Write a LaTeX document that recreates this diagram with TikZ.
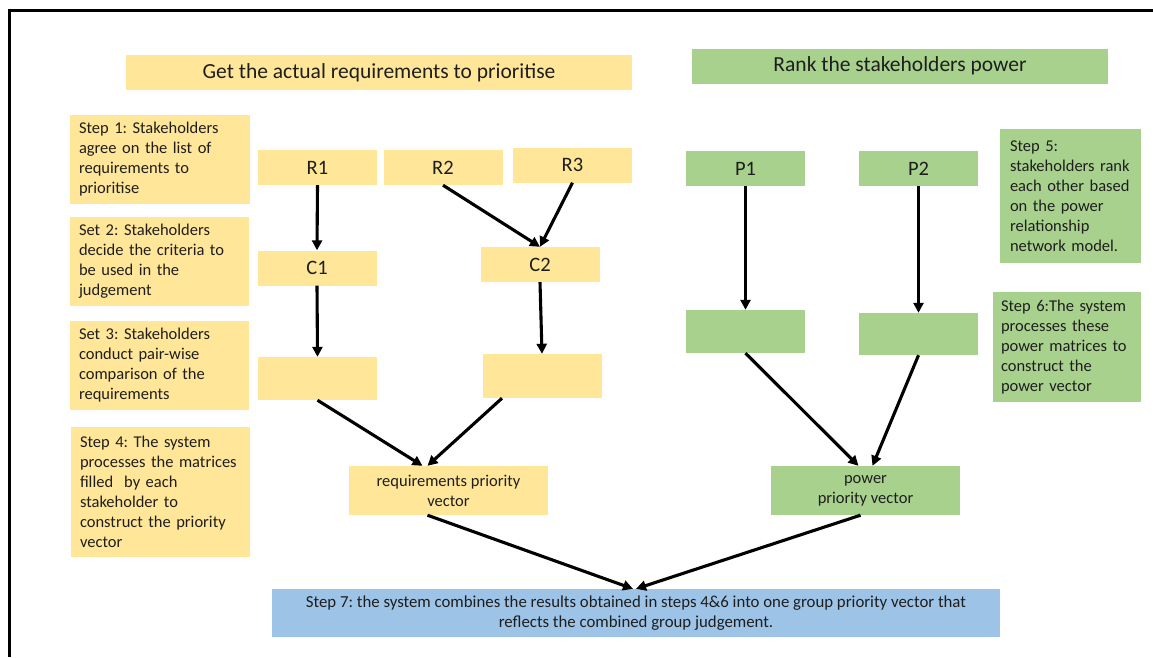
\documentclass[tikz,border=0pt]{standalone}
\usepackage{fontspec}
\setmainfont{Carlito}
\usepackage{xcolor}
\usetikzlibrary{positioning,arrows.meta}
\definecolor{reqyellow}{HTML}{FFE699}
\definecolor{powgreen}{HTML}{A9D18E}
\definecolor{combblue}{HTML}{9DC3E6}
\definecolor{inktext}{HTML}{1E1E1E}
\tikzset{
  box/.style={inner sep=0pt, align=center, text=inktext, minimum width=119pt, minimum height=35pt, font=\fontsize{20.5}{24}\selectfont},
  ybox/.style={box, fill=reqyellow},
  gbox/.style={box, fill=powgreen},
  note/.style={inner xsep=0pt, inner ysep=0pt, align=left, text=inktext, font=\fontsize{16.5}{20}\selectfont,
    execute at begin node={\leftskip=#1\relax}},
  note/.default=9pt,
  small/.style={font=\fontsize{16.5}{20}\selectfont},
  flow/.style={-{Triangle[length=10pt,width=10pt]}, line width=3.1pt}
}
\frenchspacing
\begin{document}
\begin{tikzpicture}[x=1pt,y=-1pt]
    \useasboundingbox (0,0) rectangle (1153,657);
    \fill[white] (0,0) rectangle (1153,657);
    % frame
    \draw[line width=3pt] (8,10) -- (1153,10);
    \draw[line width=3pt] (9.5,8.5) -- (9.5,657);

    % titles
    \node[ybox, minimum width=506pt, font=\fontsize{21.5}{24}\selectfont] (treq) at (379,72.5) {Get the actual requirements to prioritise};
    \node[gbox, minimum width=416pt, font=\fontsize{21.5}{24}\selectfont] (tpow) at (900,66) {Rank the stakeholders power};

    % left notes
    \node[note, fill=reqyellow, text width=180pt, minimum height=89pt] (s1) at (160,159.5) {Step 1: Stakeholders\\agree on the list of\\requirements to\\prioritise};
    \node[note, fill=reqyellow, text width=179pt, minimum height=89pt] (s2) at (159.5,261.5) {Set 2: Stakeholders\\decide the criteria to\\be used in the\\judgement};
    \node[note, fill=reqyellow, text width=179pt, minimum height=89pt] (s3) at (159.5,365.5) {Set 3: Stakeholders\\conduct pair-wise\\comparison of the\\requirements};
    \node[note, fill=reqyellow, text width=179pt, minimum height=130pt] (s4) at (160.5,492) {Step 4: The system\\processes the matrices\\filled~ by each\\stakeholder to\\construct the priority\\vector};

    % requirement boxes
    \node[ybox] (r1) at (317.5,167.5) {R1};
    \node[ybox] (r2) at (443,167.5) {R2};
    \node[ybox] (r3) at (572.5,165) {R3};
    \node[ybox] (c1) at (317,268) {C1};
    \node[ybox] (c2) at (540,264.5) {C2};
    \node[ybox, minimum height=43pt] (m1) at (317.5,378.5) {};
    \node[ybox, minimum height=44pt] (m2) at (542,376) {};
    \node[ybox, small, minimum width=199pt, minimum height=49pt] (rv) at (448.5,490.5) {requirements priority\\vector};

    % power boxes
    \node[gbox] (p1) at (745.5,168.5) {P1};
    \node[gbox] (p2) at (918.5,168.5) {P2};
    \node[gbox, minimum height=43pt] (q1) at (745.5,331.5) {};
    \node[gbox, minimum height=42pt] (q2) at (918.5,334) {};
    \node[gbox, small, minimum width=189pt, minimum height=49pt] (pv) at (865.5,490.5) {power\\priority vector};

    % right notes
    \node[note=10pt, fill=powgreen, text width=141pt, minimum height=134pt] (s5) at (1070.5,196) {Step 5:\\stakeholders rank\\each other based\\on the power\\relationship\\network model.};
    \node[note=8pt, fill=powgreen, text width=148pt, minimum height=110pt] (s6) at (1067,347) {Step 6:The system\\processes these\\power matrices to\\construct the\\power vector};

    % combined step
    \node[box, fill=combblue, minimum width=728pt, minimum height=48pt, font=\fontsize{16.8}{20}\selectfont] (s7) at (636,613) {Step 7: the system combines the results obtained in steps 4\&6 into one group priority vector that\\reflects the combined group judgement.};

    % connectors
    \draw[flow] (r1.south) -- (c1.north);
    \draw[flow] (r2.south) -- (c2.north);
    \draw[flow] (r3.south) -- (c2.north);
    \draw[flow] (c1.south) -- (m1.north);
    \draw[flow] (c2.south) -- (m2.north);
    \draw[flow] (m1.south) -- ([xshift=-26pt]rv.north);
    \draw[flow] ([xshift=-40pt]m2.south) -- ([xshift=-21pt]rv.north);
    \draw[flow] (p1.south) -- (q1.north);
    \draw[flow] (p2.south) -- (q2.north);
    \draw[flow] (q1.south) -- ([xshift=-7pt]pv.north);
    \draw[flow] (q2.south) -- ([xshift=7pt]pv.north);
    \draw[flow] ([xshift=-21pt]rv.south) -- ([xshift=-3pt]s7.north);
    \draw[flow] ([xshift=-5pt]pv.south) -- (s7.north);
\end{tikzpicture}
\end{document}
